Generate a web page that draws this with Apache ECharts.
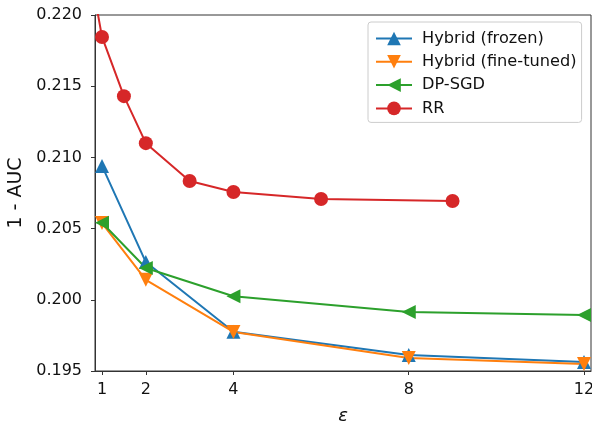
<!DOCTYPE html>
<html><head><meta charset="utf-8">
<script src="https://cdn.jsdelivr.net/npm/echarts@6/dist/echarts.min.js"></script>
<style>html,body{margin:0;padding:0;background:#fff}#c{width:592px;height:422px}</style>
</head><body><div id="c"></div>
<script>
const xFrozen = [1, 2, 4, 8, 12];
const frozen = [0.2094, 0.20265, 0.19775, 0.19612, 0.19563];
const xFine = [1, 2, 4, 8, 12];
const fineTuned = [0.20539, 0.2014, 0.19774, 0.19591, 0.19549];
const xDp = [1, 2, 4, 8, 12];
const dpsgd = [0.20541, 0.20223, 0.20025, 0.19914, 0.19893];
const xRR = [0.5, 1, 1.5, 2, 3, 4, 6, 9];
const rr = [0.227, 0.21846, 0.2143, 0.2110, 0.20834, 0.20757, 0.20708, 0.20694];
const xTicks = [1, 2, 4, 8, 12];
const names = ['Hybrid (frozen)', 'Hybrid (fine-tuned)', 'DP-SGD', 'RR'];

const pair = (xs, ys) => xs.map((x, i) => [x, ys[i]]);
const font = 'DejaVu Sans';
const triUp = 'path://M5,0 L10,10 L0,10 Z';
const triDown = 'path://M0,0 L10,0 L5,10 Z';
const triLeft = 'path://M0,5 L10,0 L10,10 Z';

function ser(name, data, color, symbol, size) {
  return {
    name, type: 'line', data, clip: true,
    symbol, symbolSize: size,
    lineStyle: {color, width: 2},
    itemStyle: {color},
    emphasis: {disabled: true},
    animation: false, z: 3
  };
}

const chart = echarts.init(document.getElementById('c'));
chart.setOption({
  animation: false,
  textStyle: {fontFamily: font},
  grid: {left: 95, right: 1, top: 15, bottom: 51, show: true, borderColor: '#333', borderWidth: 1,
    outerBoundsMode: 'none', containLabel: false},
  legend: {
    orient: 'vertical', left: 368, top: 22,
    data: names,
    itemWidth: 36, itemHeight: 17, itemGap: 7.3,
    padding: [8.5, 5, 6, 7],
    borderColor: '#ccc', borderWidth: 1, borderRadius: 3,
    backgroundColor: 'rgba(255,255,255,0.8)',
    textStyle: {fontFamily: font, fontSize: 16.2, color: '#111', padding: [0, 0, 0, 5]}
  },
  xAxis: {
    type: 'value', min: 0.84, max: 12.16,
    name: 'ε', nameLocation: 'middle', nameGap: 36,
    nameTextStyle: {fontFamily: font, fontSize: 18, fontStyle: 'italic', color: '#111'},
    axisLine: {show: true, lineStyle: {color: '#333', width: 1}},
    axisTick: {show: true, customValues: xTicks, length: 4, lineStyle: {color: '#333'}},
    axisLabel: {customValues: xTicks, fontSize: 16, color: '#111', margin: 11, fontFamily: font},
    splitLine: {show: false}
  },
  yAxis: {
    type: 'value', min: 0.195, max: 0.220, interval: 0.005,
    name: '1 - AUC', nameLocation: 'middle', nameGap: 65, nameRotate: 90,
    nameTextStyle: {fontFamily: font, fontSize: 19, color: '#111'},
    axisLine: {show: true, lineStyle: {color: '#333', width: 1}},
    axisTick: {show: true, length: 4, lineStyle: {color: '#333'}},
    axisLabel: {fontSize: 16, color: '#111', margin: 13, fontFamily: font,
      formatter: v => v.toFixed(3)},
    splitLine: {show: false}
  },
  series: [
    ser(names[0], pair(xFrozen, frozen), '#1f77b4', triUp, 14),
    ser(names[1], pair(xFine, fineTuned), '#ff7f0e', triDown, 14),
    ser(names[2], pair(xDp, dpsgd), '#2ca02c', triLeft, 14),
    ser(names[3], pair(xRR, rr), '#d62728', 'circle', 14)
  ]
});
</script></body></html>
